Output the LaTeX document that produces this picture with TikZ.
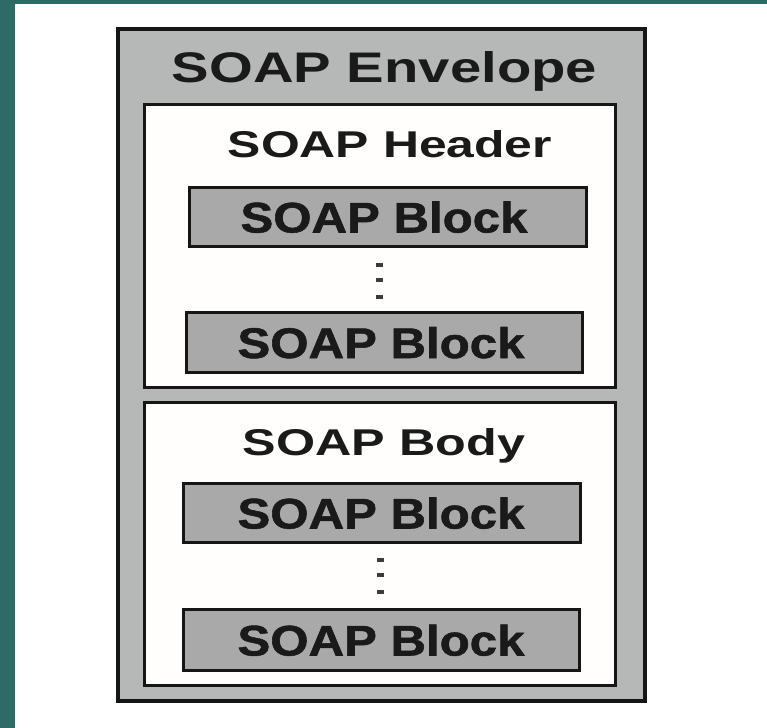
\documentclass[tikz,border=0pt]{standalone}
\usepackage{fontspec}
\setmainfont{Liberation Sans}
\newfontfamily\heavyfont[FakeBold=1.2]{Liberation Sans Bold}
\usepackage{graphicx}
\definecolor{bgteal}{HTML}{2E6A66}
\definecolor{envfill}{HTML}{B6B8B7}
\definecolor{blockfill}{HTML}{A9A9A9}
\definecolor{partfill}{HTML}{FFFEFC}
\definecolor{edge}{HTML}{161616}
\definecolor{ink}{HTML}{1A1A1A}
\newcommand\fittext[3]{\resizebox{#1bp}{#2bp}{\bfseries #3}}
\newcommand\fitheavy[3]{\resizebox{#1bp}{#2bp}{\heavyfont #3}}
\begin{document}
\begin{tikzpicture}[x=1bp,y=-1bp,
  envbox/.style={draw=edge, fill=envfill, line width=4bp, inner sep=0pt, minimum width=527bp, minimum height=672bp},
  partbox/.style={draw=edge, fill=partfill, line width=3.3bp, inner sep=0pt, minimum width=470.7bp, minimum height=282.7bp},
  blockbox/.style={draw=edge, fill=blockfill, line width=3bp, inner sep=0pt, minimum width=397bp, minimum height=59bp},
  dotmark/.style={fill=ink!85, inner sep=0pt, minimum width=7bp, minimum height=4bp},
  lbl/.style={anchor=base, inner sep=0pt, text=ink}]
\useasboundingbox (0,0) rectangle (767,728);
\fill[white] (0,0) rectangle (767,728);
\fill[bgteal] (0,0) rectangle (767,4);
\fill[bgteal] (0,0) rectangle (15,728);
% boxes
\node[envbox] (env) at (381.5,365) {};
\node[partbox] (hdr) at (380,246) {};
\node[partbox] (bdy) at (380,544) {};
\node[blockbox] (b1) at (388,217) {};
\node[blockbox, minimum width=396bp, minimum height=60bp] (b2) at (384.5,342.5) {};
\node[blockbox] (b3) at (382,513) {};
\node[blockbox, minimum width=396bp, minimum height=61bp] (b4) at (381.2,640) {};
% dots
\node[dotmark] (d1) at (379,265) {};
\node[dotmark] (d2) at (379,280) {};
\node[dotmark] (d3) at (379,296.5) {};
\node[dotmark] (d4) at (380.7,560) {};
\node[dotmark] (d5) at (380.7,575) {};
\node[dotmark] (d6) at (380.7,591.5) {};
% labels
\node[lbl] (tenv) at (384.5,83) {\fittext{425}{31}{SOAP Envelope}};
\node[lbl] (thdr) at (390,157) {\fittext{324}{27}{SOAP Header}};
\node[lbl] (tbdy) at (384,455) {\fittext{282}{27}{SOAP Body}};
\node[lbl] (tb1) at (384,232.5) {\fitheavy{287}{31}{SOAP Block}};
\node[lbl] (tb2) at (381,358) {\fitheavy{287}{31}{SOAP Block}};
\node[lbl] (tb3) at (381,528.5) {\fitheavy{287}{31}{SOAP Block}};
\node[lbl] (tb4) at (381,655.5) {\fitheavy{287}{31}{SOAP Block}};
\end{tikzpicture}
\end{document}
